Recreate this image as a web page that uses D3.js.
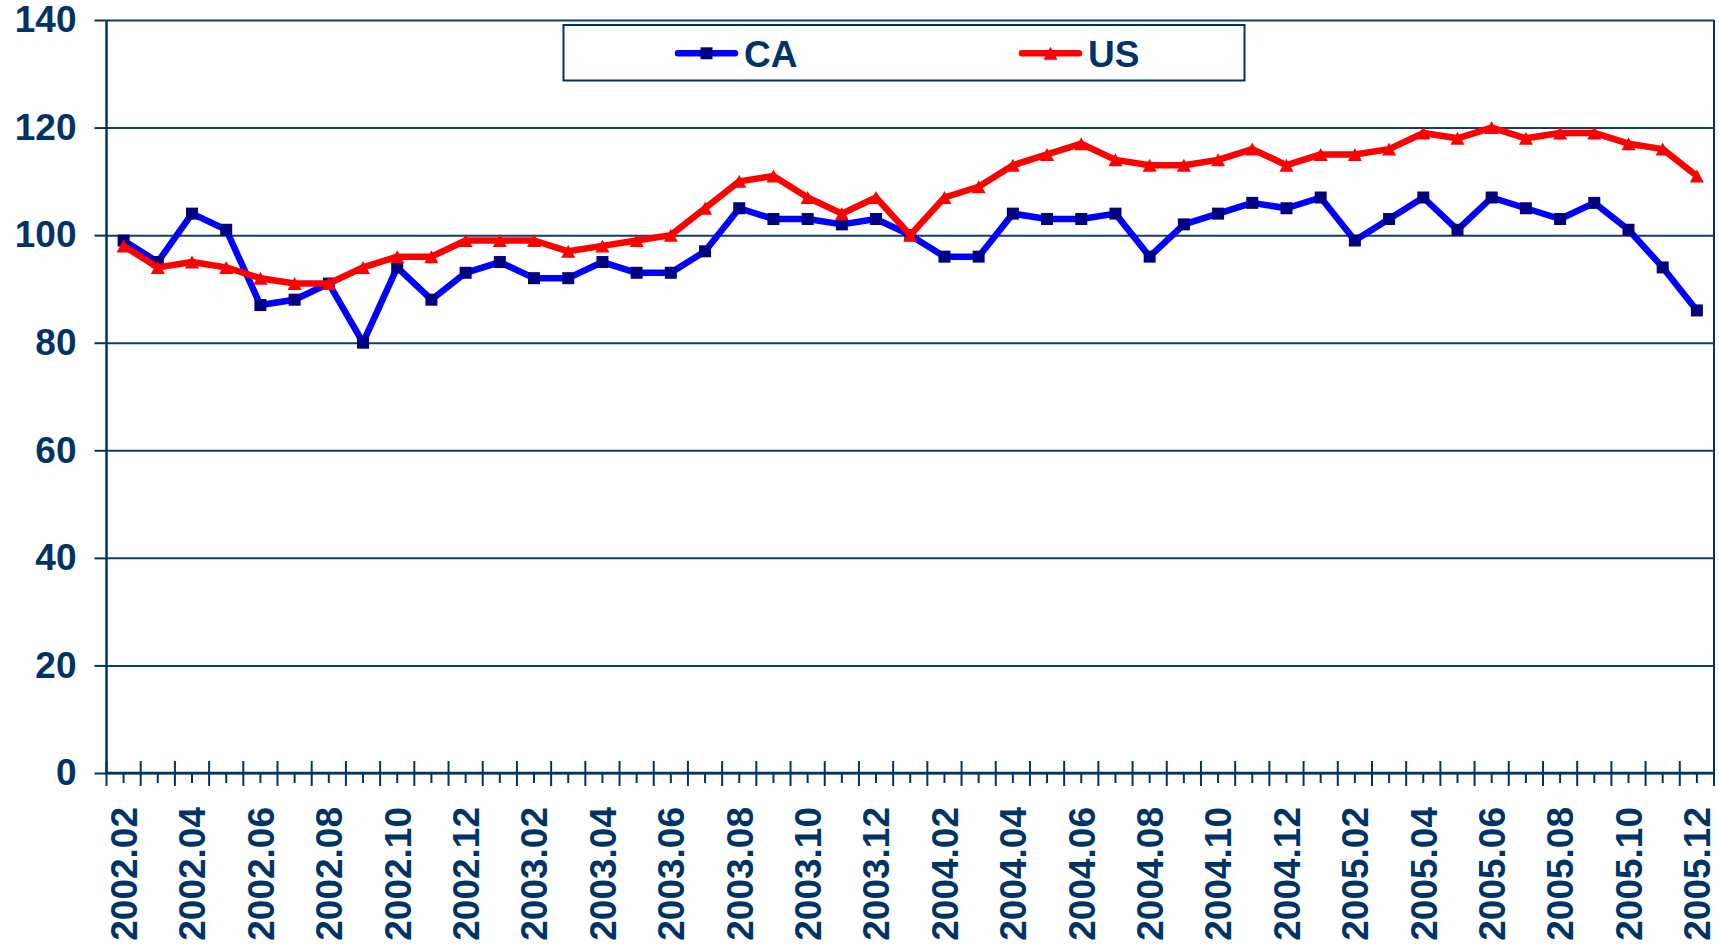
<!DOCTYPE html>
<html>
<head>
<meta charset="utf-8">
<script src="https://cdn.jsdelivr.net/npm/d3@7"></script>
<style>
  html, body { margin: 0; padding: 0; background: #fff; }
  svg { display: block; }
  text { font-family: "Liberation Sans", Arial, sans-serif; font-weight: bold; fill: #003366; }
</style>
</head>
<body>
<svg id="chart" width="1719" height="945"></svg>
<script>
// ---- Data ----
const months = [
  "2002.02","2002.03","2002.04","2002.05","2002.06","2002.07","2002.08","2002.09","2002.10","2002.11","2002.12",
  "2003.01","2003.02","2003.03","2003.04","2003.05","2003.06","2003.07","2003.08","2003.09","2003.10","2003.11","2003.12",
  "2004.01","2004.02","2004.03","2004.04","2004.05","2004.06","2004.07","2004.08","2004.09","2004.10","2004.11","2004.12",
  "2005.01","2005.02","2005.03","2005.04","2005.05","2005.06","2005.07","2005.08","2005.09","2005.10","2005.11","2005.12"
];
const caValues = [
  99, 95, 104, 101, 87, 88, 91, 80, 94, 88, 93,
  95, 92, 92, 95, 93, 93, 97, 105, 103, 103, 102, 103,
  100, 96, 96, 104, 103, 103, 104, 96, 102, 104, 106, 105,
  107, 99, 103, 107, 101, 107, 105, 103, 106, 101, 94, 86
];
const usValues = [
  98, 94, 95, 94, 92, 91, 91, 94, 96, 96, 99,
  99, 99, 97, 98, 99, 100, 105, 110, 111, 107, 104, 107,
  100, 107, 109, 113, 115, 117, 114, 113, 113, 114, 116, 113,
  115, 115, 116, 119, 118, 120, 118, 119, 119, 117, 116, 111
];
const yTicks = [0, 20, 40, 60, 80, 100, 120, 140];
const seriesNames = ["CA", "US"];

// ---- Layout ----
const svg = d3.select("#chart");
const plotLeft = 106.5, plotRight = 1714, plotTop = 20, plotBottom = 773;
const navy = "#003366";
const gridColor = "#0f3d6b";

const x = d3.scaleBand().domain(months).range([plotLeft, plotRight]).padding(0);
const y = d3.scaleLinear().domain([0, 140]).range([plotBottom, plotTop]);
const cx = d => x(d) + x.bandwidth() / 2;

// y axis ticks + labels
const yAxis = d3.axisLeft(y).tickValues(yTicks).tickSize(12).tickPadding(18).tickFormat(d3.format("d"));
const gy = svg.append("g").attr("transform", `translate(${plotLeft},0)`).call(yAxis);
gy.select(".domain").remove();
gy.selectAll(".tick line").attr("stroke", navy).attr("stroke-width", 2);
gy.selectAll(".tick text").attr("font-size", 37).attr("fill", navy)
  .attr("font-family", '"Liberation Sans", Arial, sans-serif').attr("font-weight", "bold");

// gridlines
const grid = d3.axisLeft(y).tickValues(yTicks).tickSize(-(plotRight - plotLeft)).tickFormat("");
const gg = svg.append("g").attr("transform", `translate(${plotLeft},0)`).call(grid);
gg.select(".domain").remove();
gg.selectAll(".tick line").attr("stroke", gridColor).attr("stroke-width", 2);

// plot border (left axis, right border)
svg.append("line").attr("x1", plotLeft).attr("x2", plotLeft).attr("y1", plotTop).attr("y2", plotBottom)
  .attr("stroke", navy).attr("stroke-width", 2.5);
svg.append("line").attr("x1", plotRight).attr("x2", plotRight).attr("y1", plotTop).attr("y2", plotBottom)
  .attr("stroke", navy).attr("stroke-width", 2);

// x axis: minor ticks at category centers
const xMinor = d3.axisBottom(x).tickSize(10).tickFormat("");
const gxm = svg.append("g").attr("transform", `translate(0,${plotBottom})`).call(xMinor);
gxm.select(".domain").remove();
gxm.selectAll(".tick line").attr("stroke", navy).attr("stroke-width", 2);

// major ticks at category boundaries (crossing the axis)
const boundaries = months.map(m => x(m)).concat([x.range()[1]]);
svg.append("g").selectAll("line").data(boundaries).join("line")
  .attr("x1", d => d).attr("x2", d => d)
  .attr("y1", plotBottom - 12).attr("y2", plotBottom + 13)
  .attr("stroke", navy).attr("stroke-width", 2);

svg.append("line").attr("x1", plotLeft).attr("x2", plotRight).attr("y1", plotBottom).attr("y2", plotBottom)
  .attr("stroke", navy).attr("stroke-width", 2.5);

// x labels, every second month, rotated
svg.append("g").selectAll("text").data(months.filter((m, i) => i % 2 === 0)).join("text")
  .attr("transform", d => `translate(${cx(d)},${plotBottom + 34}) rotate(-90)`)
  .attr("text-anchor", "end").attr("dy", "0.36em")
  .attr("font-size", 37)
  .text(d => d);

// ---- Series ----
const lineGen = vals => d3.line().x((v, i) => cx(months[i])).y(v => y(v))(vals);
const triPath = "M0,-6.5L7,6.5L-7,6.5Z";
const sq = 12;

svg.append("path").attr("d", lineGen(caValues)).attr("fill", "none")
  .attr("stroke", "#0000FF").attr("stroke-width", 6.5).attr("stroke-linejoin", "round");
svg.append("g").selectAll("rect").data(caValues).join("rect")
  .attr("x", (v, i) => cx(months[i]) - sq / 2).attr("y", v => y(v) - sq / 2)
  .attr("width", sq).attr("height", sq).attr("fill", "#000080");

svg.append("path").attr("d", lineGen(usValues)).attr("fill", "none")
  .attr("stroke", "#FF0000").attr("stroke-width", 6.5).attr("stroke-linejoin", "round");
svg.append("g").selectAll("path").data(usValues).join("path")
  .attr("transform", (v, i) => `translate(${cx(months[i])},${y(v)})`)
  .attr("d", triPath).attr("fill", "#FF0000");

// ---- Legend ----
const lg = svg.append("g");
lg.append("rect").attr("x", 563.5).attr("y", 25).attr("width", 1244.5 - 563.5).attr("height", 55.5)
  .attr("fill", "#fff").attr("stroke", navy).attr("stroke-width", 2);
const legendItems = [
  { name: seriesNames[0], x0: 678, x1: 735, text: 744, color: "#0000FF", marker: "square" },
  { name: seriesNames[1], x0: 1022, x1: 1079, text: 1088, color: "#FF0000", marker: "tri" }
];
const ly = 53.3;
legendItems.forEach(it => {
  lg.append("line").attr("x1", it.x0).attr("x2", it.x1).attr("y1", ly).attr("y2", ly)
    .attr("stroke", it.color).attr("stroke-width", 6.5).attr("stroke-linecap", "round");
  const mx = (it.x0 + it.x1) / 2;
  if (it.marker === "square") {
    lg.append("rect").attr("x", mx - sq / 2).attr("y", ly - sq / 2).attr("width", sq).attr("height", sq).attr("fill", "#000080");
  } else {
    lg.append("path").attr("transform", `translate(${mx},${ly})`).attr("d", triPath).attr("fill", "#FF0000");
  }
  lg.append("text").attr("x", it.text).attr("y", 66.7).attr("font-size", 37).text(it.name);
});
</script>
</body>
</html>
